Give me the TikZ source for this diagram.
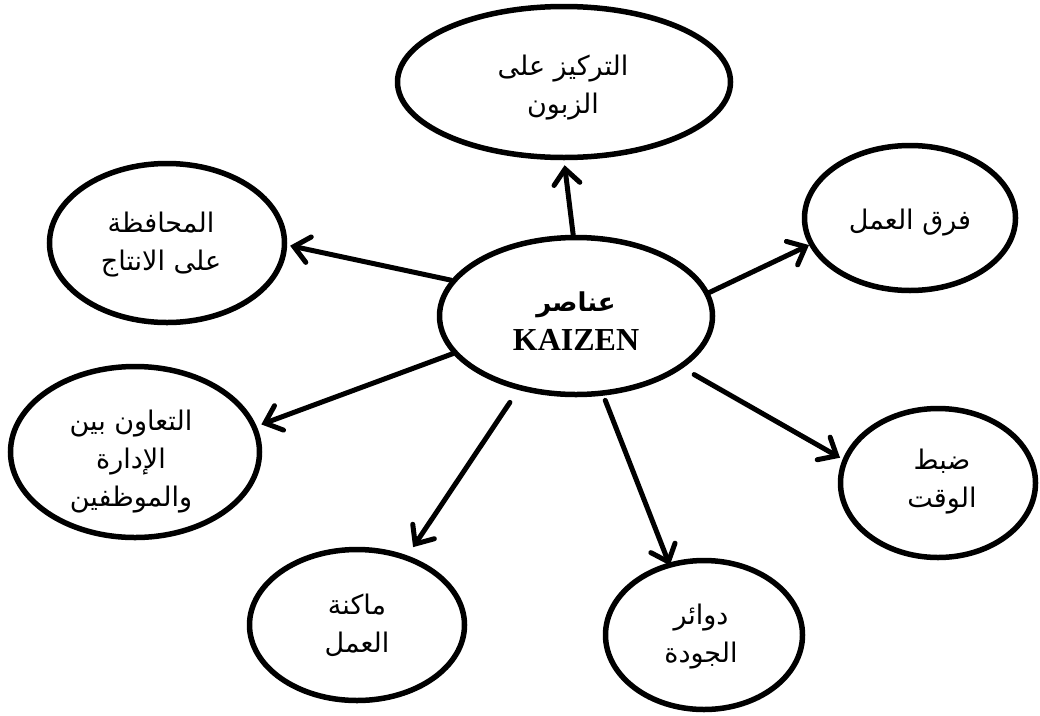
\documentclass[tikz,border=0pt]{standalone}
\usepackage{fontspec}
\setmainfont{Liberation Serif}
\newfontfamily\arabicfont[Script=Arabic]{DejaVu Sans}
\TeXXeTstate=1
\usetikzlibrary{shapes.geometric,arrows.meta}
\begin{document}
\begin{tikzpicture}[x=1pt,y=-1pt,
  oval/.style={draw, ellipse, line width=5.5pt, inner sep=0pt},
  lbl/.style={align=center, font=\arabicfont\fontsize{27}{38}\selectfont, inner sep=0pt},
  arr/.style={line width=5pt, line cap=round, -{Straight Barb[length=15pt,width=26pt,line cap=round]}},
]
\useasboundingbox[fill=white] (0,0) rectangle (1040,715);
% ellipses
\node[oval, minimum width=273pt, minimum height=157pt] (c)  at (576,316) {};
\node[oval, minimum width=333pt, minimum height=151pt] (e1) at (564,82)  {};
\node[oval, minimum width=235pt, minimum height=159pt] (e2) at (167,243) {};
\node[oval, minimum width=211pt, minimum height=145pt] (e3) at (910,218) {};
\node[oval, minimum width=249pt, minimum height=171pt] (e4) at (135,452) {};
\node[oval, minimum width=215pt, minimum height=151pt] (e5) at (357,625) {};
\node[oval, minimum width=197pt, minimum height=149pt] (e6) at (704,635) {};
\node[oval, minimum width=195pt, minimum height=149pt] (e7) at (938,483) {};
% texts
\node[lbl] (tc) at (576,321) {{\bfseries\fontsize{26}{38}\selectfont\beginR عناصر\endR}\\[1pt]{\rmfamily\bfseries\fontsize{32}{38}\selectfont KAIZEN}};
\node[lbl] (t1) at (563,88)  {\beginR التركيز على\endR\\\beginR الزبون\endR};
\node[lbl] (t2) at (161,245) {\beginR المحافظة\endR\\\beginR على الانتاج\endR};
\node[lbl] (t3) at (910,223) {\beginR فرق العمل\endR};
\node[lbl] (t4) at (131,462) {\beginR التعاون بين\endR\\\beginR الإدارة\endR\\\beginR والموظفين\endR};
\node[lbl] (t5) at (357,625) {\beginR ماكنة\endR\\\beginR العمل\endR};
\node[lbl] (t6) at (701,637) {\beginR دوائر\endR\\\beginR الجودة\endR};
\node[lbl] (t7) at (942,482) {\beginR ضبط\endR\\\beginR الوقت\endR};
% arrows
\draw[arr, shorten >=5pt] (c.92) -- (e1.270);
\draw[arr, shorten >=3pt] (c.164) -- (e2.359);
\draw[arr] (c.10) -- (e3.195);
\draw[arr, shorten >=5pt] (c.197) -- (e4.12);
\draw[arr, shorten <=15pt, shorten >=10pt] (c.232) -- (e5.54);
\draw[arr, shorten <=5pt, shorten >=-3pt] (c.289) -- (e6.116);
\draw[arr, shorten <=13pt, shorten >=3pt] (c.334) -- (e7.166);
\end{tikzpicture}
\end{document}
